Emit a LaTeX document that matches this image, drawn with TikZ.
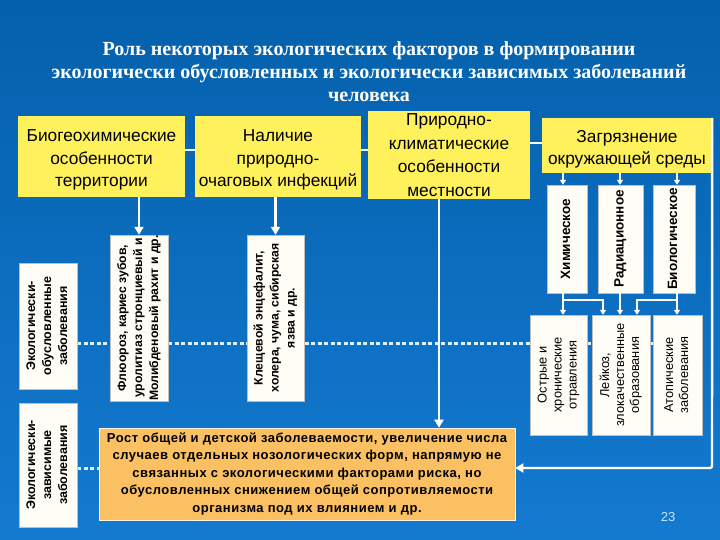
\documentclass[tikz,border=0pt]{standalone}
\usepackage{fontspec}
\setmainfont{Liberation Sans}
\newfontfamily\titlefont{Liberation Serif}
\usetikzlibrary{arrows.meta}
\pgfdeclarelayer{bottom}
\pgfdeclarelayer{background}
\pgfsetlayers{bottom,background,main}
\definecolor{bgtop}{RGB}{4,96,172}
\definecolor{bgbot}{RGB}{20,122,208}
\definecolor{ybox}{RGB}{255,241,92}
\definecolor{obox}{RGB}{250,192,98}
\definecolor{wbox}{RGB}{255,253,246}
\definecolor{dotc}{RGB}{220,240,255}
\definecolor{numc}{RGB}{200,230,255}
\newcommand\vt[1]{\rotatebox{90}{\begin{tabular}{@{}c@{}}#1\end{tabular}}}
\newcommand\dn[2]{\raisebox{0pt}[\dimexpr\height+#1\relax]{\begin{tabular}{@{}c@{}}#2\end{tabular}}}
\tikzset{
  ybx/.style={fill=ybox, draw=none, inner sep=0pt, align=center, text=black,
    font=\fontsize{17.3}{22.5}\selectfont},
  wbx/.style={fill=wbox, draw=black!25, line width=0.4pt, inner sep=0pt},
  obx/.style={fill=obox, draw=white!80!obox, line width=0.6pt, inner sep=0pt, align=center,
    font=\bfseries\addfontfeature{LetterSpace=4}\fontsize{13}{17.5}\selectfont},
  arr/.style={draw=white, line width=2.8pt, -{Triangle[width=9pt,length=8pt]}},
  sarr/.style={draw=white, line width=1.6pt, -{Triangle[width=6pt,length=5pt]}},
  ln/.style={draw=white, line width=2.8pt},
  dots/.style={draw=dotc, line width=3pt, dash pattern=on 4pt off 2.5pt},
}
\begin{document}
\begin{tikzpicture}[x=1pt,y=-1pt]
\begin{pgfonlayer}{bottom}
\shade[top color=bgtop, bottom color=bgbot] (0,0) rectangle (720,540);
\end{pgfonlayer}
\useasboundingbox (0,0) rectangle (720,540);

\node[text=white, align=center, font=\titlefont\bfseries\fontsize{20}{23}\selectfont] (title) at (369,72)
 {Роль некоторых экологических факторов в формировании\\экологически обусловленных и экологически зависимых заболеваний\\человека};

% top boxes
\node[ybx, minimum width=167, minimum height=81] (box1) at (101.5,156.5) {\dn{7pt}{Биогеохимические\\особенности\\территории}};
\node[ybx, minimum width=166, minimum height=81] (box2) at (278,156.5) {\dn{7pt}{Наличие\\природно-\\очаговых инфекций}};
\node[ybx, minimum width=162, minimum height=88, font=\fontsize{17.3}{23.5}\selectfont] (box3) at (449,155) {Природно-\\климатические\\особенности\\местности};
\node[ybx, minimum width=170, minimum height=55] (box4) at (627,145.5) {\dn{7pt}{Загрязнение\\окружающей среды}};

% left boxes
\node[wbx, minimum width=58, minimum height=126, font=\bfseries\fontsize{12.5}{16}\selectfont] (left1) at (48,326) {\vt{Экологически-\\обусловленные\\заболевания}};
\node[wbx, minimum width=58, minimum height=124, font=\bfseries\fontsize{12.5}{16}\selectfont] (left2) at (48,465) {\vt{Экологически-\\зависимые\\заболевания}};

\node[wbx, minimum width=58, minimum height=166, font=\bfseries\fontsize{12.2}{16}\selectfont] (fl) at (139,318) {\vt{Флюороз, кариес зубов,\\уролитиаз стронциевый и\\Молибденовый рахит и др.}};
\node[wbx, minimum width=57, minimum height=166, font=\bfseries\fontsize{12.2}{16}\selectfont] (kl) at (275.5,318) {\vt{Клещевой энцефалит,\\холера, чума, сибирская\\язва и др.}};

% right group
\node[wbx, minimum width=40, minimum height=108, font=\bfseries\fontsize{13.5}{16}\selectfont] (him) at (567,239) {\vt{Химическое}};
\node[wbx, minimum width=45, minimum height=108, font=\bfseries\fontsize{13.5}{16}\selectfont] (rad) at (620.5,239) {\vt{Радиационное}};
\node[wbx, minimum width=42, minimum height=108, font=\bfseries\fontsize{13.5}{16}\selectfont] (bio) at (674,239) {\vt{Биологическое}};

\node[wbx, minimum width=57, minimum height=120, font=\fontsize{12.8}{15}\selectfont] (ostr) at (558.5,375) {\vt{Острые и\\хронические\\отравления}};
\node[wbx, minimum width=58, minimum height=120, font=\fontsize{12.8}{15}\selectfont] (lei) at (621,375) {\vt{Лейкоз,\\злокачественные\\образования}};
\node[wbx, minimum width=49, minimum height=120, font=\fontsize{12.8}{15}\selectfont] (atop) at (677.5,375) {\vt{Атопические\\заболевания}};

% bottom box
\node[obx, minimum width=416, minimum height=92] (bot) at (307,474)
 {Рост общей и детской заболеваемости, увеличение числа\\случаев отдельных нозологических форм, напрямую не\\связанных с экологическими факторами риска, но\\обусловленных снижением общей сопротивляемости\\организма под их влиянием и др.};

\node[text=numc, font=\fontsize{13}{15}\selectfont] (pg) at (668,517) {23};

% helper coordinates
\coordinate (x439) at (439,0);
\coordinate (x563) at (563,0);
\coordinate (x603) at (603,0);
\coordinate (x620) at (620,0);
\coordinate (x637) at (637,0);
\coordinate (x677) at (677,0);
\coordinate (y150) at (0,150);
\coordinate (y143) at (0,143);
\coordinate (y300) at (0,300);
\coordinate (y343) at (0,343);
\coordinate (y468) at (0,468);
\coordinate (fr) at (712,468);

\begin{pgfonlayer}{background}
\draw[dots] (left1.east |- y343) -- (ostr.west |- y343);
\draw[dots] (ostr.east |- y343) -- (lei.west |- y343);
\draw[dots] (lei.east |- y343) -- (atop.west |- y343);
\draw[dots] (left2.east |- y468) -- (bot.west |- y468);
\end{pgfonlayer}

% connectors between top boxes
\draw[ln] (box1.east |- y150) -- (box2.west |- y150);
\draw[ln] (box2.east |- y150) -- (box3.west |- y150);
\draw[ln] (box3.east |- y143) -- (box4.west |- y143);

% down arrows
\draw[arr] (box1.south -| fl.north) -- (fl.north);
\draw[arr] (box2.south -| kl.north) -- (kl.north);
\draw[arr] (box3.south -| x439) -- (bot.north -| x439);

% right group arrows
\draw[sarr] (box4.south -| x563) -- (him.north -| x563);
\draw[sarr] (box4.south -| x620) -- (rad.north -| x620);
\draw[sarr] (box4.south -| x677) -- (bio.north -| x677);

\draw[sarr] (him.south -| x563) -- (ostr.north -| x563);
\draw[sarr] (x563 |- y300) -- (x603 |- y300) -- (lei.north -| x603);
\draw[sarr] (rad.south -| x620) -- (lei.north -| x620);
\draw[sarr] (bio.south -| x677) -- (atop.north -| x677);
\draw[sarr] (x677 |- y300) -- (x637 |- y300) -- (lei.north -| x637);

% frame line to bottom box
\draw[arr, line width=2.4pt, rounded corners=2pt] (box4.north east) -- (fr) -- (bot.east |- y468);
\end{tikzpicture}
\end{document}
